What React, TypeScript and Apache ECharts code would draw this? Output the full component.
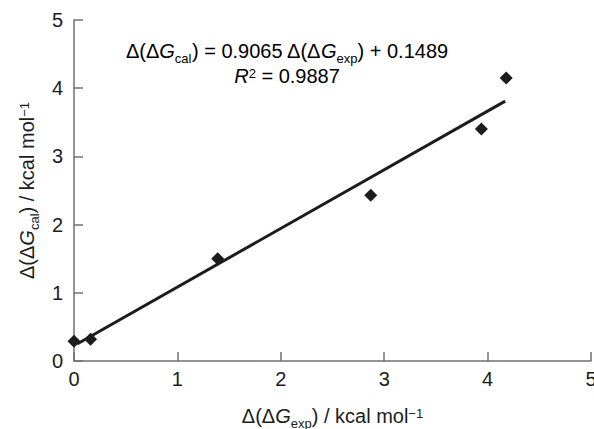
import React, { useEffect, useRef } from "react";
import * as echarts from "echarts";

const expValues = [0.0, 0.16, 1.39, 2.87, 3.94, 4.18];
const calValues = [0.29, 0.32, 1.5, 2.43, 3.4, 4.15];
const fitX = [0.03, 4.17];
const fitY = [0.25, 3.81];
const tickValues = [0, 1, 2, 3, 4, 5];
const slopeText = "0.9065";
const interceptText = "0.1489";
const r2Text = "0.9887";

const FONT = "'Liberation Sans', Arial, Helvetica, sans-serif";
const INK = "#1c1c1c";
const AXIS = "#707070";

const rich = {
  a: { fontSize: 20, fontFamily: FONT, color: INK, lineHeight: 24, verticalAlign: "middle" as const },
  i: { fontSize: 20, fontFamily: FONT, color: INK, fontStyle: "italic" as const, lineHeight: 24, verticalAlign: "middle" as const },
  s: { fontSize: 13, fontFamily: FONT, color: INK, lineHeight: 4, padding: [14, 0, 0, 0], verticalAlign: "middle" as const },
  p: { fontSize: 13, fontFamily: FONT, color: INK, lineHeight: 4, padding: [0, 0, 5, 0], verticalAlign: "middle" as const },
};

export default function App() {
  const ref = useRef<HTMLDivElement>(null);
  useEffect(() => {
    if (!ref.current) return;
    const chart = echarts.init(ref.current, null, { renderer: "svg" });
    const points = expValues.map((x, k) => [x, calValues[k]]);
    const fit = fitX.map((x, k) => [x, fitY[k]]);
    const axisCommon = {
      type: "value" as const,
      min: 0,
      max: 5,
      interval: 1,
      axisLine: { show: true, onZero: false, lineStyle: { color: AXIS, width: 1.5 } },
      axisTick: { show: true, inside: true, length: 9, lineStyle: { color: AXIS, width: 1.5 } },
      splitLine: { show: false },
      axisLabel: { color: INK, fontSize: 20, fontFamily: FONT, formatter: (v: number) => (tickValues.includes(v) ? String(v) : "") },
      nameLocation: "middle" as const,
    };
    chart.setOption({
      animation: false,
      backgroundColor: "#ffffff",
      grid: { left: 74, right: 3, top: 20, bottom: 68, containLabel: false, outerBoundsMode: "none" },
      xAxis: {
        ...axisCommon,
        axisLabel: { ...axisCommon.axisLabel, margin: 8 },
        name: "{a|Δ(Δ}{i|G}{s|exp}{a|) / kcal mol}{p|−1}",
        nameGap: 43,
        nameTextStyle: { rich },
      },
      yAxis: {
        ...axisCommon,
        axisLabel: { ...axisCommon.axisLabel, margin: 11 },
        name: "{a|Δ(Δ}{i|G}{s|cal}{a|) / kcal mol}{p|−1}",
        nameGap: 30,
        nameRotate: 90,
        nameTextStyle: { rich },
      },
      series: [
        {
          type: "line",
          data: fit,
          showSymbol: false,
          symbol: "none",
          lineStyle: { color: INK, width: 3 },
          z: 2,
        },
        {
          type: "scatter",
          data: points,
          symbol: "diamond",
          symbolSize: 13,
          itemStyle: { color: INK, opacity: 1 },
          z: 3,
        },
      ],
      graphic: [
        {
          type: "text",
          x: 287,
          y: 51,
          style: {
            text: `{a|Δ(Δ}{i|G}{s|cal}{a|) = ${slopeText} Δ(Δ}{i|G}{s|exp}{a|) + ${interceptText}}`,
            rich,
            align: "center",
            verticalAlign: "middle",
          },
        },
        {
          type: "text",
          x: 287,
          y: 76,
          style: {
            text: `{i|R}{p|2}{a| = ${r2Text}}`,
            rich,
            align: "center",
            verticalAlign: "middle",
          },
        },
      ],
    });
    return () => chart.dispose();
  }, []);
  return (
    <div
      ref={ref}
      style={{ position: "absolute", left: 0, top: 0, width: 594, height: 429, background: "#fff" }}
    />
  );
}
